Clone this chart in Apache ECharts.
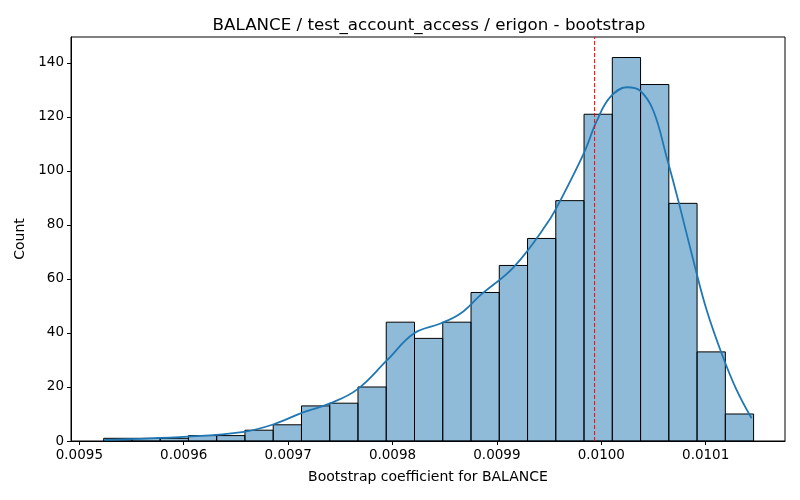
<!DOCTYPE html>
<html>
<head>
<meta charset="utf-8">
<script src="https://cdn.jsdelivr.net/npm/echarts@6/dist/echarts.min.js"></script>
<style>
  html, body { margin: 0; padding: 0; background: #fff; }
  #main { width: 800px; height: 500px; }
</style>
</head>
<body>
<div id="main"></div>
<script>
// histogram bins (equal width)
var binStart = 0.0095233;
var binWidth = 0.00002707;
var counts = [1, 1, 1, 2, 2, 4, 6, 13, 14, 20, 44, 38, 44, 55, 65, 75, 89, 121, 142, 132, 88, 33, 10];

// kde curve, in count units
var kdeX = [0.0095241, 0.0096038, 0.0096576, 0.0096863, 0.0097150, 0.0097408, 0.0097666,
    0.0097950, 0.0098204, 0.0098460, 0.0098651, 0.0098842, 0.0099161, 0.0099480, 0.0099607,
    0.0099830, 0.0099958, 0.0100085, 0.0100245, 0.0100372, 0.0100499, 0.0100627, 0.0100738,
    0.0100898, 0.0101010, 0.0101153, 0.0101296, 0.0101440];
var kdeY = [0.4, 1.6, 3.4, 6.2, 10.7, 14, 19.2,
    30, 39.8, 43.5, 47.2, 54, 64.4, 80.5, 89,
    106.3, 118.6, 127.3, 131, 129.7, 122.3, 105, 89,
    64.4, 48.4, 32.4, 18.9, 8.4];

// dashed reference line
var refValue = 0.0099936;
var yMax = 149.6;

var xTicks = [0.0095, 0.0096, 0.0097, 0.0098, 0.0099, 0.0100, 0.0101];

var binData = [];
for (var i = 0; i < counts.length; i++) {
    binData.push([binStart + i * binWidth, binStart + (i + 1) * binWidth, counts[i]]);
}
var kdeData = [];
for (var j = 0; j < kdeX.length; j++) {
    kdeData.push([kdeX[j], kdeY[j]]);
}

var font = 'DejaVu Sans';
var chart = echarts.init(document.getElementById('main'));
chart.setOption({
    animation: false,
    backgroundColor: '#fff',
    title: {
        text: 'BALANCE / test_account_access / erigon - bootstrap',
        left: 424,
        top: 12,
        textAlign: 'center',
        textStyle: { fontFamily: font, fontSize: 16.7, fontWeight: 'normal', color: '#000' }
    },
    grid: {
        left: 71, right: 15, top: 37, bottom: 59,
        show: true, borderColor: '#000', borderWidth: 1
    },
    xAxis: {
        type: 'value',
        min: 0.009492,
        max: 0.010176,
        name: 'Bootstrap coefficient for BALANCE',
        nameLocation: 'middle',
        nameGap: 29,
        nameTextStyle: { fontFamily: font, fontSize: 14, color: '#000' },
        splitLine: { show: false },
        axisLine: { show: true, onZero: false, lineStyle: { color: '#000' } },
        axisTick: {
            show: true, length: 4, lineStyle: { color: '#000' },
            customValues: xTicks
        },
        axisLabel: {
            fontFamily: font, fontSize: 13.5, color: '#000', margin: 7,
            customValues: xTicks,
            formatter: function (v) { return v.toFixed(4); }
        }
    },
    yAxis: {
        type: 'value',
        min: 0,
        max: yMax,
        interval: 20,
        name: 'Count',
        nameLocation: 'middle',
        nameGap: 43,
        nameTextStyle: { fontFamily: font, fontSize: 14, color: '#000' },
        splitLine: { show: false },
        axisLine: { show: true, lineStyle: { color: '#000' } },
        axisTick: { show: true, length: 4, lineStyle: { color: '#000' } },
        axisLabel: {
            fontFamily: font, fontSize: 13.5, color: '#000', margin: 7,
            showMaxLabel: false
        }
    },
    series: [
        {
            type: 'custom',
            data: binData,
            encode: { x: [0, 1], y: 2 },
            renderItem: function (params, api) {
                var p0 = api.coord([api.value(0), api.value(2)]);
                var p1 = api.coord([api.value(1), 0]);
                return {
                    type: 'rect',
                    shape: { x: p0[0], y: p0[1], width: p1[0] - p0[0], height: p1[1] - p0[1] },
                    style: { fill: 'rgba(31,119,180,0.5)', stroke: '#000', lineWidth: 1 }
                };
            }
        },
        {
            type: 'line',
            data: kdeData,
            smooth: 0.4,
            symbol: 'none',
            lineStyle: { color: '#1f77b4', width: 1.8 },
            z: 3
        },
        {
            type: 'line',
            data: [[refValue, 0], [refValue, yMax]],
            symbol: 'none',
            lineStyle: { color: '#ff0000', width: 1, type: [4, 2] },
            z: 4
        }
    ]
});
</script>
</body>
</html>
